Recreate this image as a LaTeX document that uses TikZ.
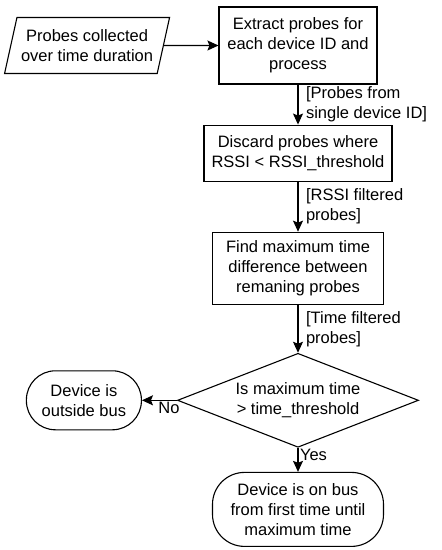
\documentclass[tikz,border=0pt]{standalone}
\usepackage{fontspec}
\setmainfont{Liberation Sans}
\usepackage{tikz}
\usetikzlibrary{positioning,arrows.meta,shapes.geometric}
\newcommand{\flowfont}{\fontsize{16.5pt}{20pt}\selectfont}
\tikzset{
  pbox/.style ={rectangle, draw=black, line width=1.1pt, fill=white, align=center,
                inner sep=3pt, font=\flowfont},
  pio/.style  ={pbox, trapezium, trapezium left angle=72, trapezium right angle=108,
                trapezium stretches body, minimum width=165pt, minimum height=56pt},
  pdec/.style ={pbox, diamond, aspect=2.56, inner sep=0pt, minimum width=241pt,
                minimum height=94pt},
  pterm/.style={pbox, rounded corners=29pt},
  arr/.style  ={-{Stealth[length=11pt, width=10pt, inset=2pt]}, line width=1.1pt},
  el/.style   ={font=\flowfont, inner sep=1.5pt, align=left},
}

\begin{document}
\begin{tikzpicture}[x=1pt, y=1pt]
  \useasboundingbox (0,0) rectangle (442,-550);
  \node[pbox, minimum width=158pt, minimum height=77pt] (extract) at (298,-45.5)
        {Extract probes for\\each device ID and\\process};
  \node[pio, left=54.5pt of extract] (probes) {Probes collected\\over time duration};
  \node[pbox, minimum width=188pt, minimum height=56pt, below=40pt of extract] (discard)
        {Discard probes where\\RSSI < RSSI\_threshold};
  \node[pbox, minimum width=171pt, minimum height=72pt, below=50pt of discard] (maxdiff)
        {Find maximum time\\difference between\\remaning probes};
  \node[pdec, below=48pt of maxdiff] (isbig) {Is maximum time\\> time\_threshold};
  \node[pterm, minimum width=115pt, minimum height=59pt, left=35pt of isbig] (outside)
        {Device is\\outside bus};
  \node[pterm, rounded corners=32pt, minimum width=171pt, minimum height=74pt,
        below=24pt of isbig] (onbus)
        {Device is on bus\\from first time until\\maximum time};

  \draw[arr] (probes) -- (extract);
  \draw[arr] (extract) -- node[el, right=6pt]{[Probes from\\single device ID]} (discard);
  \draw[arr] (discard) -- node[el, right=6pt]{[RSSI filtered\\probes]} (maxdiff);
  \draw[arr] (maxdiff) -- node[el, right=6pt]{[Time filtered\\probes]} (isbig);
  \draw[arr] (isbig) -- node[el, below, pos=0.23]{No} (outside);
  \draw[arr] (isbig) -- node[el, right, pos=0.3]{Yes} (onbus);
\end{tikzpicture}
\end{document}
